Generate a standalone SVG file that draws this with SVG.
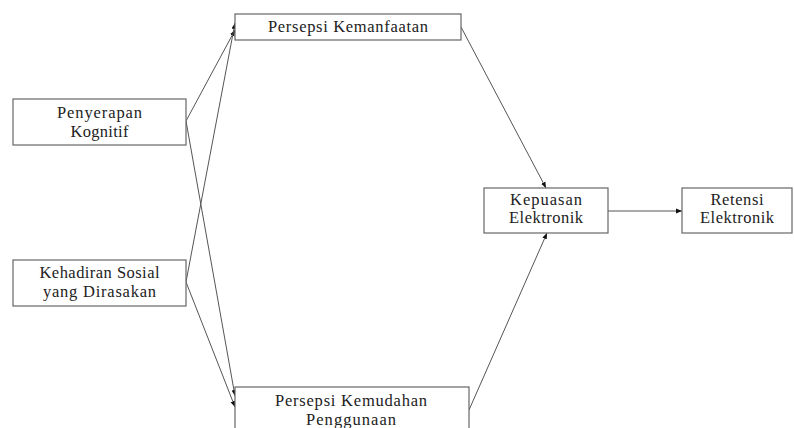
<svg xmlns="http://www.w3.org/2000/svg" width="794" height="428" viewBox="0 0 794 428">
<style>
.box{fill:#fff;stroke:#666;stroke-width:1.2}
.t{font-family:'Liberation Serif','DejaVu Serif',serif;font-size:16.5px;fill:#222;text-anchor:middle}
.c{stroke:#555;stroke-width:1;fill:none;marker-end:url(#ah)}
</style>
<defs>
<marker id="ah" viewBox="0 0 10 10" refX="10" refY="5" markerWidth="6" markerHeight="6" orient="auto" markerUnits="userSpaceOnUse">
<path d="M0,1 L10,5 L0,9 z" fill="#111"/>
</marker>
</defs>
<rect width="794" height="428" fill="#fff"/>
<g id="connectors">
<line class="c" x1="186" y1="121" x2="235" y2="30"/>
<line class="c" x1="186" y1="282" x2="235" y2="23"/>
<line class="c" x1="186" y1="121" x2="235" y2="396"/>
<line class="c" x1="186" y1="282" x2="235" y2="407"/>
<line class="c" x1="461" y1="27" x2="546" y2="188"/>
<line class="c" x1="469" y1="410" x2="547" y2="233"/>
<line class="c" x1="608" y1="211" x2="682" y2="211"/>
</g>
<g id="pk">
<rect class="box" x="235" y="14" width="226" height="26"/>
<text class="t" x="348" y="32" textLength="160" lengthAdjust="spacing">Persepsi Kemanfaatan</text>
</g>
<g id="penyerapan">
<rect class="box" x="13" y="99" width="173" height="46"/>
<text class="t" x="99.5" y="118" textLength="85" lengthAdjust="spacing">Penyerapan</text>
<text class="t" x="99.5" y="137" textLength="58" lengthAdjust="spacing">Kognitif</text>
</g>
<g id="kehadiran">
<rect class="box" x="13" y="260" width="173" height="46"/>
<text class="t" x="99.5" y="278" textLength="120" lengthAdjust="spacing">Kehadiran Sosial</text>
<text class="t" x="99.5" y="297" textLength="113" lengthAdjust="spacing">yang Dirasakan</text>
</g>
<g id="pkm">
<rect class="box" x="235" y="387" width="234" height="50"/>
<text class="t" x="351" y="406" textLength="152" lengthAdjust="spacing">Persepsi Kemudahan</text>
<text class="t" x="351" y="425" textLength="90" lengthAdjust="spacing">Penggunaan</text>
</g>
<g id="kepuasan">
<rect class="box" x="484" y="188" width="124" height="45"/>
<text class="t" x="546" y="205" textLength="72" lengthAdjust="spacing">Kepuasan</text>
<text class="t" x="546" y="223" textLength="74" lengthAdjust="spacing">Elektronik</text>
</g>
<g id="retensi">
<rect class="box" x="682" y="188" width="110" height="45"/>
<text class="t" x="737" y="205" textLength="53" lengthAdjust="spacing">Retensi</text>
<text class="t" x="737" y="223" textLength="74" lengthAdjust="spacing">Elektronik</text>
</g>
</svg>
